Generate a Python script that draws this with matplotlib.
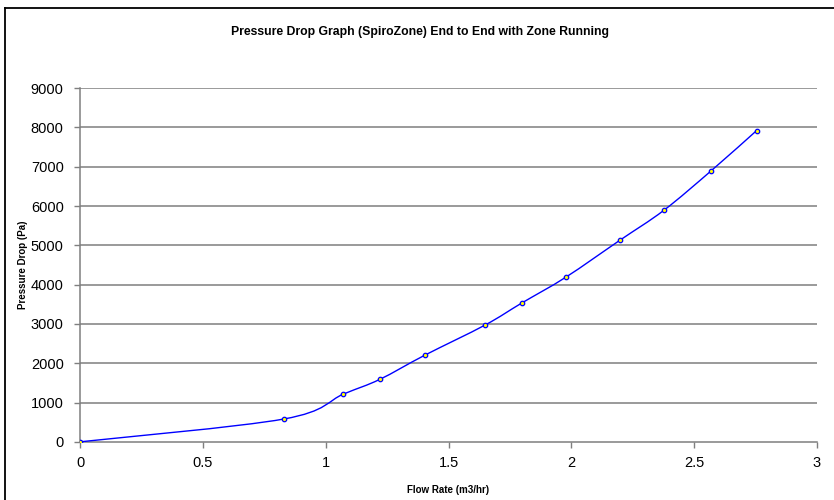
import matplotlib
matplotlib.use("Agg")
import matplotlib.pyplot as plt
from matplotlib.path import Path
from matplotlib.patches import PathPatch
from matplotlib.lines import Line2D

plt.rcParams['font.family'] = ['Liberation Sans', 'DejaVu Sans']

# data
flow_rate = [0, 0.829, 1.072, 1.219, 1.403, 1.649, 1.798, 1.978, 2.198, 2.377, 2.570, 2.755]
pressure_drop = [0, 580, 1215, 1586, 2203, 2972, 3531, 4190, 5130, 5891, 6898, 7921]
x_ticks = [0, 0.5, 1, 1.5, 2, 2.5, 3]
y_ticks = [0, 1000, 2000, 3000, 4000, 5000, 6000, 7000, 8000, 9000]
title = "Pressure Drop Graph (SpiroZone) End to End with Zone Running"
x_label = "Flow Rate (m3/hr)"
y_label = "Pressure Drop (Pa)"


def smooth_path(xs, ys):
    # Excel-style smoothed line: Catmull-Rom segments as cubic Beziers
    pts = list(zip(xs, ys))
    verts = [pts[0]]
    codes = [Path.MOVETO]
    n = len(pts)
    for i in range(n - 1):
        p0 = pts[i - 1] if i > 0 else pts[i]
        p1 = pts[i]
        p2 = pts[i + 1]
        p3 = pts[i + 2] if i + 2 < n else pts[i + 1]
        c1 = (p1[0] + (p2[0] - p0[0]) / 6, p1[1] + (p2[1] - p0[1]) / 6)
        c2 = (p2[0] - (p3[0] - p1[0]) / 6, p2[1] - (p3[1] - p1[1]) / 6)
        verts += [c1, c2, p2]
        codes += [Path.CURVE4] * 3
    return Path(verts, codes)


fig = plt.figure(figsize=(8.34, 5.0), dpi=100)
ax = fig.add_axes([0.0963, 0.1164, 0.8830, 0.7072])

grid_col = '#7f7f7f'
for v in y_ticks[1:]:
    ax.axhline(v, color=grid_col, lw=1.1, zorder=1)

ax.add_patch(PathPatch(smooth_path(flow_rate, pressure_drop), fill=False,
                       edgecolor='#0000ff', lw=1.0, zorder=3))
ax.plot(flow_rate, pressure_drop, ls='none', marker='o', ms=3.2,
        mfc='#ffff00', mec='#0000ff', mew=0.9, zorder=4)

ax.set_xlim(0, 3)
ax.set_ylim(0, 9000)
ax.set_xticks(x_ticks)
ax.set_xticklabels(['0', '0.5', '1', '1.5', '2', '2.5', '3'])
ax.set_yticks(y_ticks)

for s in ['top', 'right']:
    ax.spines[s].set_visible(False)
for s in ['left', 'bottom']:
    ax.spines[s].set_color(grid_col)
    ax.spines[s].set_linewidth(1.1)

ax.tick_params(axis='both', direction='out', length=4, width=1, color=grid_col,
               labelsize=10.5, labelcolor='black')
ax.tick_params(axis='y', pad=8)
ax.tick_params(axis='x', pad=6)

ax.set_xlabel(x_label, fontsize=7, fontweight='bold', labelpad=11)
ax.set_ylabel(y_label, fontsize=7, fontweight='bold', labelpad=2)

fig.text(0.5036, 0.935, title, ha='center', va='center', fontsize=8.8, fontweight='bold')

# outer chart border (only left and top visible in the crop)
fig.add_artist(Line2D([0.0054, 0.0054], [0, 0.985], transform=fig.transFigure,
                      color='black', lw=1.3))
fig.add_artist(Line2D([0.0054, 1], [0.985, 0.985], transform=fig.transFigure,
                      color='black', lw=1.3))

fig.savefig('out.png', dpi=100)
